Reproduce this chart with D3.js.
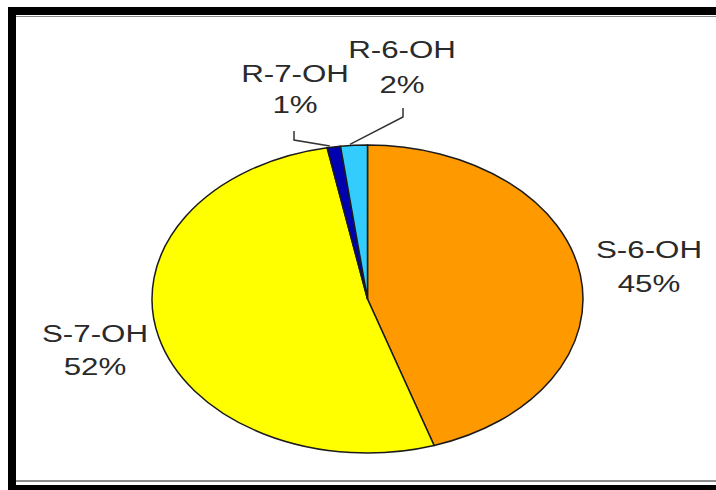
<!DOCTYPE html>
<html>
<head>
<meta charset="utf-8">
<script src="https://cdn.jsdelivr.net/npm/d3@7"></script>
<style>
  html, body { margin: 0; padding: 0; background: #fff; }
  svg { display: block; }
  text { font-family: "Liberation Sans", Arial, sans-serif; fill: #2a2a2a; }
</style>
</head>
<body>
<svg id="chart" width="716" height="490"></svg>
<script>
// Share of each hydroxylated product
const labels = ["S-6-OH", "S-7-OH", "R-7-OH", "R-6-OH"];
const values = [45, 52, 1, 2];
const colors = ["#FF9900", "#FFFF00", "#0000B0", "#33CCFF"];

const W = 716, H = 490;
const svg = d3.select("#chart");

// Frame: heavy black rules with a thin grey inner line
svg.append("rect").attr("x", 0).attr("y", 0).attr("width", W).attr("height", H).attr("fill", "#fff");
svg.append("rect").attr("x", 8).attr("y", 7).attr("width", W - 8).attr("height", 8).attr("fill", "#000");
svg.append("rect").attr("x", 8).attr("y", 7).attr("width", 8).attr("height", H - 7).attr("fill", "#000");
svg.append("rect").attr("x", 8).attr("y", 485).attr("width", W - 8).attr("height", 5).attr("fill", "#000");
svg.append("line").attr("x1", 16).attr("x2", W).attr("y1", 16.5).attr("y2", 16.5)
  .attr("stroke", "#888").attr("stroke-width", 1.2);
svg.append("line").attr("x1", 16).attr("x2", W).attr("y1", 481).attr("y2", 481)
  .attr("stroke", "#666").attr("stroke-width", 1.5);

// Pie drawn as a circle, then flattened vertically into an ellipse
const cx = 367.5, cy = 299, rx = 215.5, ry = 154;
const sy = ry / rx;

const pie = d3.pie().sort(null).value(d => d.value);
const arcs = pie(labels.map((l, i) => ({ label: l, value: values[i], color: colors[i] })));
const arc = d3.arc().innerRadius(0).outerRadius(rx);

const g = svg.append("g").attr("transform", `translate(${cx},${cy}) scale(1,${sy})`);
g.selectAll("path").data(arcs).join("path")
  .attr("d", arc)
  .attr("fill", d => d.data.color)
  .attr("stroke", "#1a1a1a")
  .attr("stroke-width", 1.5)
  .attr("vector-effect", "non-scaling-stroke");

// Point on the rim at a slice's middle angle (in page coordinates)
function rimPoint(a) {
  const m = (a.startAngle + a.endAngle) / 2;
  return [cx + rx * Math.sin(m), cy - ry * Math.cos(m)];
}

// Label placement: name line and percentage line
const layout = {
  "S-6-OH": { x: 649, y1: 258, y2: 292 },
  "S-7-OH": { x: 95,  y1: 342, y2: 375 },
  "R-7-OH": { x: 295, y1: 82,  y2: 113 },
  "R-6-OH": { x: 402, y1: 58,  y2: 93 }
};
// Leader lines for the thin slices: tick below the label, then to the rim
const leaders = {
  "R-7-OH": [[294, 131], [294, 140]],
  "R-6-OH": [[403, 108], [403, 117]]
};

const sx = 1.36;
arcs.forEach(a => {
  const L = layout[a.data.label];
  [[a.data.label, L.y1], [a.data.value + "%", L.y2]].forEach(([t, y]) => {
    svg.append("text")
      .attr("transform", `translate(${L.x},${y}) scale(${sx},1)`)
      .attr("text-anchor", "middle")
      .attr("font-size", 23)
      .text(t);
  });
  const pts = leaders[a.data.label];
  if (pts) {
    const end = rimPoint(a);
    svg.append("path")
      .attr("d", d3.line()(pts.concat([[end[0] - 4, end[1] - 1]])))
      .attr("fill", "none")
      .attr("stroke", "#333")
      .attr("stroke-width", 1.5);
  }
});
</script>
</body>
</html>
